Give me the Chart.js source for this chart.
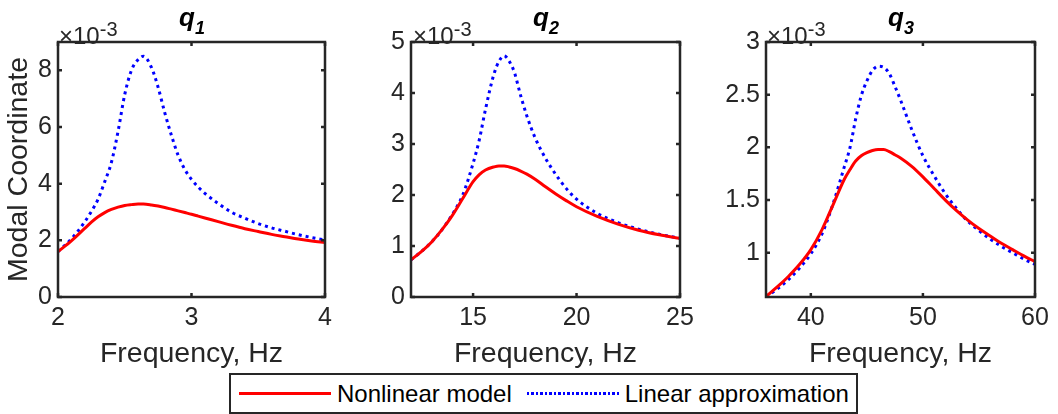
<!DOCTYPE html>
<html lang="en">
<head>
    <meta charset="UTF-8" />
    <title>Modal Coordinates q1, q2, q3</title>
    <style>
        body {
            margin: 0;
            background: #fff;
            font-family: "Liberation Sans", Arial, Helvetica, sans-serif;
            color: #262626;
        }

        #wrap {
            position: relative;
            width: 1058px;
            height: 414px;
            overflow: hidden;
        }

        canvas {
            position: absolute;
            top: 0;
        }

        .ttl {
            position: absolute;
            top: 4px;
            transform: translateX(-50%);
            font-size: 26px;
            line-height: 26px;
            font-weight: bold;
            font-style: italic;
            color: #000;
            white-space: nowrap;
        }

        .ttl span {
            font-size: 18px;
            vertical-align: -8px;
        }

        .mult {
            position: absolute;
            top: 17px;
            font-size: 24px;
            line-height: 24px;
            color: #262626;
            white-space: nowrap;
        }

        .mult span {
            font-size: 20px;
            vertical-align: 8px;
        }

        #legend {
            position: absolute;
            left: 229px;
            top: 373px;
            width: 629px;
            height: 41px;
            box-sizing: border-box;
            border: 2px solid #262626;
            background: #fff;
            display: flex;
            align-items: center;
            padding-left: 8px;
            font-size: 24px;
            color: #000;
        }

        .key {
            display: inline-block;
            width: 92px;
            height: 3px;
            margin-right: 6px;
        }

        .key.solid {
            background: #ff0000;
        }

        .key.dotted {
            margin-left: 15px;
            background: repeating-linear-gradient(to right, #0000ff 0 2.5px, transparent 2.5px 4.5px);
        }
    </style>
    <script src="https://cdn.jsdelivr.net/npm/chart.js"></script>
</head>
<body>
    <div id="wrap">
        <canvas id="q1Chart" width="360" height="414" style="left:0px"></canvas>
        <canvas id="q2Chart" width="355" height="414" style="left:360px"></canvas>
        <canvas id="q3Chart" width="343" height="414" style="left:715px"></canvas>

        <div class="ttl" style="left:192px">q<span>1</span></div>
        <div class="ttl" style="left:546px">q<span>2</span></div>
        <div class="ttl" style="left:901px">q<span>3</span></div>

        <div class="mult" style="left:59px">×10<span>-3</span></div>
        <div class="mult" style="left:413px">×10<span>-3</span></div>
        <div class="mult" style="left:767px">×10<span>-3</span></div>

        <div id="legend">
            <span class="key solid"></span><span>Nonlinear model</span>
            <span class="key dotted"></span><span>Linear approximation</span>
        </div>
    </div>

    <script>
        // all amplitudes are in units of 1e-3 (the axes show x10^-3)
        const q1Freq = [2.0, 2.1, 2.2, 2.25, 2.3, 2.35, 2.4, 2.45, 2.5, 2.55, 2.6, 2.64, 2.7, 2.75, 2.8, 2.85, 2.9, 2.95, 3.0, 3.05, 3.1, 3.2, 3.3, 3.4, 3.5, 3.6, 3.7, 3.8, 3.9, 4.0];
        const q1Nonlinear = [1.60, 1.98, 2.42, 2.64, 2.83, 2.98, 3.09, 3.17, 3.23, 3.26, 3.28, 3.28, 3.25, 3.21, 3.16, 3.10, 3.04, 2.98, 2.92, 2.855, 2.79, 2.66, 2.53, 2.41, 2.31, 2.21, 2.13, 2.05, 1.98, 1.92];
        const q1Linear = [1.60, 2.05, 2.65, 3.02, 3.45, 4.07, 4.75, 5.85, 7.15, 8.00, 8.38, 8.50, 8.10, 7.40, 6.50, 5.70, 5.00, 4.50, 4.15, 3.88, 3.66, 3.30, 2.99, 2.78, 2.59, 2.44, 2.32, 2.20, 2.10, 2.01];

        const q2Freq = [12, 12.5, 13, 13.5, 14, 14.5, 15, 15.3, 15.6, 16.0, 16.25, 16.5, 16.75, 17.0, 17.3, 17.6, 18.0, 18.5, 19.0, 19.5, 20, 21, 22, 23, 24, 25];
        const q2Nonlinear = [0.73, 0.89, 1.08, 1.32, 1.60, 1.93, 2.26, 2.40, 2.49, 2.55, 2.57, 2.57, 2.55, 2.52, 2.47, 2.41, 2.31, 2.16, 2.02, 1.89, 1.77, 1.58, 1.43, 1.31, 1.22, 1.15];
        const q2Linear = [0.73, 0.89, 1.08, 1.32, 1.62, 2.00, 2.62, 3.08, 3.68, 4.36, 4.62, 4.73, 4.62, 4.40, 3.95, 3.55, 3.12, 2.72, 2.40, 2.13, 1.92, 1.64, 1.46, 1.33, 1.23, 1.15];

        const q3Freq = [36, 37, 38, 39, 40, 41, 42, 43, 43.5, 44, 44.5, 45, 45.5, 46, 46.5, 47, 47.5, 48, 49, 50, 51, 52, 53, 54, 55, 56, 57, 58, 59, 60];
        const q3Nonlinear = [0.585, 0.675, 0.775, 0.89, 1.03, 1.22, 1.46, 1.70, 1.79, 1.87, 1.92, 1.95, 1.97, 1.98, 1.98, 1.96, 1.93, 1.90, 1.82, 1.72, 1.61, 1.50, 1.40, 1.31, 1.23, 1.16, 1.09, 1.03, 0.97, 0.915];
        const q3Linear = [0.58, 0.655, 0.745, 0.855, 0.99, 1.18, 1.47, 1.82, 2.00, 2.27, 2.49, 2.63, 2.73, 2.77, 2.76, 2.70, 2.58, 2.45, 2.17, 1.92, 1.73, 1.56, 1.42, 1.30, 1.21, 1.13, 1.06, 1.00, 0.94, 0.89];

        // tick labels
        const q1XTicks = [2, 3, 4];
        const q1YTicks = [0, 2, 4, 6, 8];
        const q2XTicks = [15, 20, 25];
        const q2YTicks = [0, 1, 2, 3, 4, 5];
        const q3XTicks = [40, 50, 60];
        const q3YTicks = [1, 1.5, 2, 2.5, 3];

        const axisColor = "#262626";
        const fontFamily = "'Liberation Sans', Arial, Helvetica, sans-serif";

        // MATLAB style box: full frame plus inward tick marks on all four sides
        const boxPlugin = {
            id: "box",
            afterDatasetsDraw(chart) {
                const { ctx, chartArea: a, scales } = chart;
                const x = scales.x, y = scales.y;
                const len = 4;
                ctx.save();
                ctx.strokeStyle = axisColor;
                ctx.lineWidth = 2.5;
                ctx.beginPath();
                x.ticks.forEach((t) => {
                    const px = x.getPixelForValue(t.value);
                    ctx.moveTo(px, a.bottom);
                    ctx.lineTo(px, a.bottom - len);
                    ctx.moveTo(px, a.top);
                    ctx.lineTo(px, a.top + len);
                });
                y.ticks.forEach((t) => {
                    const py = y.getPixelForValue(t.value);
                    ctx.moveTo(a.left, py);
                    ctx.lineTo(a.left + len, py);
                    ctx.moveTo(a.right, py);
                    ctx.lineTo(a.right - len, py);
                });
                ctx.stroke();
                ctx.strokeRect(a.left, a.top, a.right - a.left, a.bottom - a.top);
                ctx.restore();
            },
        };

        function makePanel(id, freq, nonlinear, linear, p) {
            new Chart(document.getElementById(id).getContext("2d"), {
                type: "line",
                data: {
                    datasets: [
                        {
                            label: "Nonlinear model",
                            data: freq.map((f, i) => ({ x: f, y: nonlinear[i] })),
                            borderColor: "#ff0000",
                            borderWidth: 3,
                            pointRadius: 0,
                            cubicInterpolationMode: "monotone",
                            fill: false,
                        },
                        {
                            label: "Linear approximation",
                            data: freq.map((f, i) => ({ x: f, y: linear[i] })),
                            borderColor: "#0000ff",
                            borderWidth: 3,
                            borderDash: [3, 4],
                            pointRadius: 0,
                            cubicInterpolationMode: "monotone",
                            fill: false,
                        },
                    ],
                },
                options: {
                    responsive: false,
                    animation: false,
                    layout: { padding: { left: 0, right: p.padRight, top: 42, bottom: 0 } },
                    plugins: { legend: { display: false }, tooltip: { enabled: false } },
                    scales: {
                        x: {
                            type: "linear",
                            min: p.xMin,
                            max: p.xMax,
                            grid: { display: false, drawTicks: false },
                            border: { display: false },
                            ticks: {
                                padding: 6,
                                color: axisColor,
                                font: { family: fontFamily, size: 25 },
                                callback: (v) => String(v),
                            },
                            afterBuildTicks: (s) => { s.ticks = p.xTicks.map((v) => ({ value: v })); },
                            afterFit: (s) => { s.height = 414 - 297; },
                            title: {
                                display: true,
                                text: "Frequency, Hz",
                                color: axisColor,
                                font: { family: fontFamily, size: 28.5 },
                                padding: { top: 0, bottom: 43 },
                            },
                        },
                        y: {
                            type: "linear",
                            min: p.yMin,
                            max: p.yMax,
                            grid: { display: false, drawTicks: false },
                            border: { display: false },
                            ticks: {
                                padding: 6,
                                color: axisColor,
                                font: { family: fontFamily, size: 25 },
                                callback: (v) => String(v),
                            },
                            afterBuildTicks: (s) => { s.ticks = p.yTicks.map((v) => ({ value: v })); },
                            afterFit: (s) => { s.width = p.yWidth; },
                            title: {
                                display: !!p.yTitle,
                                text: p.yTitle || "",
                                color: axisColor,
                                font: { family: fontFamily, size: 28.5 },
                                padding: { top: 2, bottom: 0 },
                            },
                        },
                    },
                },
                plugins: [boxPlugin],
            });
        }

        makePanel("q1Chart", q1Freq, q1Nonlinear, q1Linear, {
            xMin: 2, xMax: 4, xTicks: q1XTicks,
            yMin: 0, yMax: 9, yTicks: q1YTicks,
            yWidth: 58, padRight: 35, yTitle: "Modal Coordinate",
        });
        makePanel("q2Chart", q2Freq, q2Nonlinear, q2Linear, {
            xMin: 12, xMax: 25, xTicks: q2XTicks,
            yMin: 0, yMax: 5, yTicks: q2YTicks,
            yWidth: 51, padRight: 35,
        });
        makePanel("q3Chart", q3Freq, q3Nonlinear, q3Linear, {
            xMin: 36, xMax: 60, xTicks: q3XTicks,
            yMin: 0.58, yMax: 3, yTicks: q3YTicks,
            yWidth: 51, padRight: 23,
        });
    </script>
</body>
</html>
